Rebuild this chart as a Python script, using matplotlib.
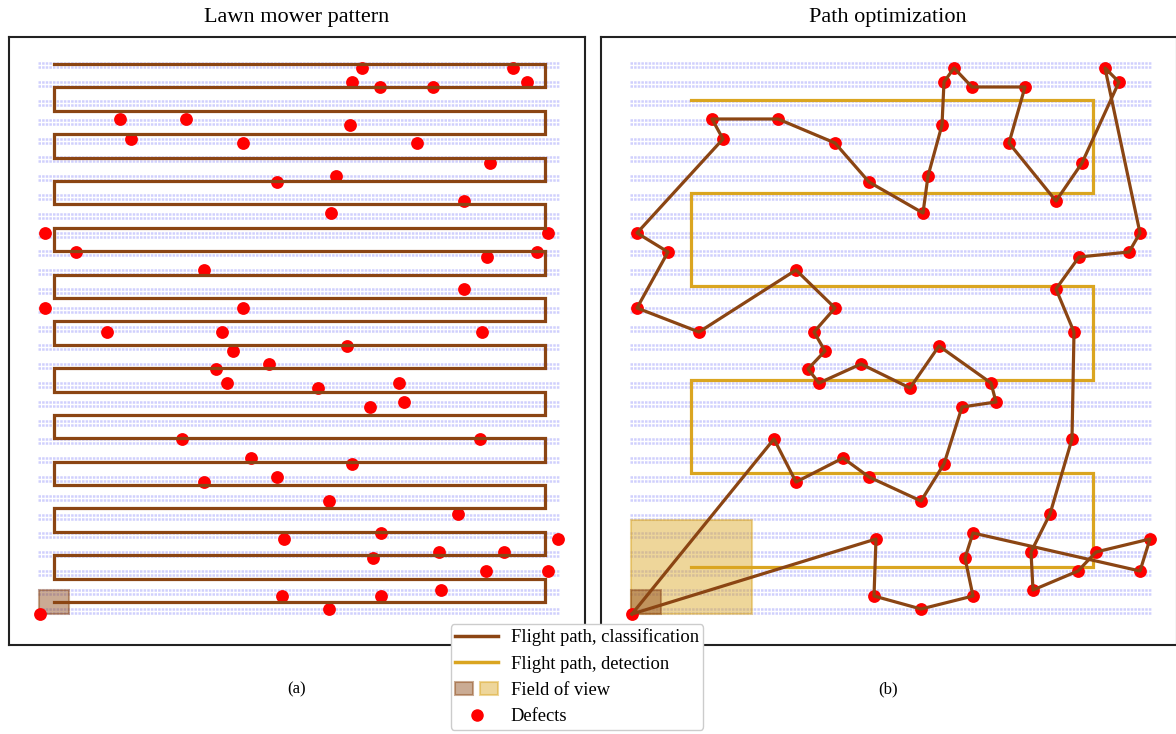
import matplotlib
matplotlib.use('Agg')
import matplotlib.pyplot as plt
from matplotlib.patches import Rectangle
from matplotlib.lines import Line2D
from matplotlib.legend_handler import HandlerTuple

plt.rcParams['font.family'] = ['Liberation Serif', 'DejaVu Serif']

# ---------------- data (field coordinates, y pointing down) ----------------
# defects, listed in the order of the optimized tour (first = start point)
defect_x = [40, 182, 204, 251, 277, 329, 352, 370, 404, 399, 347, 318, 269, 227, 216,
            233, 222, 243, 204, 107, 45, 76, 45, 131, 120, 186, 243, 277, 331, 336,
            350, 352, 362, 380, 433, 417, 464, 490, 527, 513, 548, 537, 487, 464, 482,
            480, 458, 439, 441, 486, 504, 558, 548, 381, 373, 381, 329, 282, 284]
defect_y = [614, 439, 482, 458, 477, 501, 464, 407, 402, 383, 346, 388, 364, 383, 369,
            351, 332, 308, 270, 332, 308, 252, 233, 139, 119, 119, 143, 182, 213, 176,
            125, 82, 68, 87, 87, 143, 201, 163, 82, 68, 233, 252, 257, 289, 332,
            439, 514, 552, 590, 571, 552, 539, 571, 533, 558, 596, 609, 596, 539]

# plant rows (centre of each double row)
row_y = [65, 84, 103, 122, 141, 159, 178, 197, 216, 235, 253, 272, 291, 310, 329,
         347, 366, 385, 404, 423, 441, 460, 479, 498, 517, 535, 554, 573, 592, 611]
row_x_range = (38, 559)

# lawn mower sweep lines (bottom to top) and their x extent
sweep_y = [602, 579, 555, 532, 508, 485, 462, 438, 415, 392, 368, 345,
           321, 298, 275, 251, 228, 204, 181, 158, 134, 111, 87, 64]
sweep_x_range = (54, 545)

# detection sweep lines (bottom to top)
det_y = [567, 473, 380, 286, 193, 100]
det_x_range = (99, 501)

# field of view sizes (width, height)
fov_cls = (30.5, 23.5)
fov_det = (121, 94)

# ---------------- styling ----------------
BROWN = '#8B4513'
GOLD = '#DAA520'
ROWC = '#d0d0fd'

W, H = 1176, 734
fig = plt.figure(figsize=(W / 100, H / 100), dpi=100)


def mk_axes(x0, x1, y0, y1):
    return fig.add_axes([x0 / W, 1 - y1 / H, (x1 - x0) / W, (y1 - y0) / H])


axL = mk_axes(9, 585, 37, 645)
axR = mk_axes(601, 1177, 37, 645)


def serpentine(ys, xr):
    px, py = [], []
    for i, y in enumerate(ys):
        a, b = (xr[0], xr[1]) if i % 2 == 0 else (xr[1], xr[0])
        px += [a, b]
        py += [y, y]
    return px, py


for ax in (axL, axR):
    ax.set_xlim(9, 585)
    ax.set_ylim(645, 37)
    ax.set_xticks([])
    ax.set_yticks([])
    for s in ax.spines.values():
        s.set_linewidth(1.5)
        s.set_color('#222222')
    for y in row_y:
        for dy in (-2.4, 2.4):
            ax.plot(row_x_range, [y + dy, y + dy], color=ROWC, lw=1.8,
                    ls=(0, (1.0, 0.45)), zorder=1)

# left panel: lawn mower
sx, sy = serpentine(sweep_y, sweep_x_range)
axL.add_patch(Rectangle((sx[0] - fov_cls[0] / 2, sy[0] - fov_cls[1] / 2), fov_cls[0], fov_cls[1],
                        facecolor=BROWN, edgecolor=BROWN, alpha=0.45, lw=1.5, zorder=2))
axL.scatter(defect_x, defect_y, s=85, color='red', zorder=4, linewidths=0)
axL.plot(sx, sy, color=BROWN, lw=2.3, zorder=5, solid_joinstyle='miter')

# right panel: path optimization
dx, dy_ = serpentine(det_y, det_x_range)
axR.add_patch(Rectangle((dx[0] - fov_det[0] / 2, dy_[0] - fov_det[1] / 2), fov_det[0], fov_det[1],
                        facecolor=GOLD, edgecolor=GOLD, alpha=0.45, lw=1.5, zorder=2))
axR.add_patch(Rectangle((sx[0] - fov_cls[0] / 2, sy[0] - fov_cls[1] / 2), fov_cls[0], fov_cls[1],
                        facecolor=BROWN, edgecolor=BROWN, alpha=0.45, lw=1.5, zorder=2.5))
axR.plot(dx, dy_, color=GOLD, lw=2.3, zorder=3, solid_joinstyle='miter')
axR.scatter(defect_x, defect_y, s=85, color='red', zorder=4, linewidths=0)
axR.plot(defect_x + [defect_x[0]], defect_y + [defect_y[0]], color=BROWN, lw=2.3, zorder=5)

# titles and labels
fig.text(297 / W, 1 - 17.5 / H, 'Lawn mower pattern', ha='center', va='center', fontsize=16)
fig.text(888 / W, 1 - 17.5 / H, 'Path optimization', ha='center', va='center', fontsize=16)
fig.text(297 / W, 1 - 689 / H, '(a)', ha='center', va='center', fontsize=12)
fig.text(888 / W, 1 - 689 / H, '(b)', ha='center', va='center', fontsize=12)

h_cls = Line2D([], [], color=BROWN, lw=2.5)
h_det = Line2D([], [], color=GOLD, lw=2.5)
p1 = Rectangle((0, 0), 1, 1, facecolor=BROWN, edgecolor=BROWN, alpha=0.45, lw=1.5)
p2 = Rectangle((0, 0), 1, 1, facecolor=GOLD, edgecolor=GOLD, alpha=0.45, lw=1.5)
h_def = Line2D([], [], color='red', marker='o', ls='none', markersize=8)
leg = fig.legend([h_cls, h_det, (p1, p2), h_def],
                 ['Flight path, classification', 'Flight path, detection', 'Field of view', 'Defects'],
                 handler_map={tuple: HandlerTuple(ndivide=None, pad=0.4)},
                 loc='upper center', bbox_to_anchor=(577 / W, 1 - 624 / H),
                 borderaxespad=0, fontsize=13.3, framealpha=1, handlelength=2.3,
                 labelspacing=0.5, borderpad=0.25, handletextpad=0.7)

fig.savefig('out.png', dpi=100)
